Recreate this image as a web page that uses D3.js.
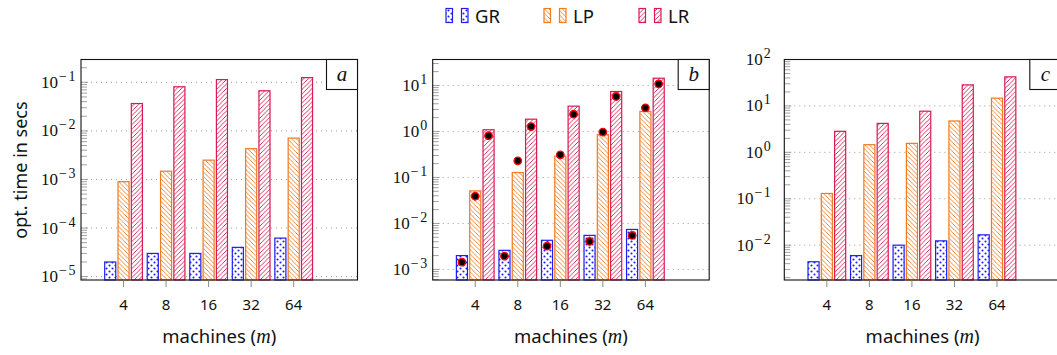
<!DOCTYPE html>
<html>
<head>
<meta charset="utf-8">
<script src="https://cdn.jsdelivr.net/npm/d3@7"></script>
<style>
  body { margin: 0; background: #fff; }
  svg { display: block; }
  .sans { font-family: "Noto Sans", "Open Sans", sans-serif; }
  .serif { font-family: "Liberation Serif", "DejaVu Serif", serif; }
</style>
</head>
<body>
<svg id="chart" width="1057" height="355"></svg>
<script>
// categories and series
const categories = ["4", "8", "16", "32", "64"];
const seriesNames = ["GR", "LP", "LR"];
const panelLetters = ["a", "b", "c"];

// panel a
const grA = [2.0e-5, 3.0e-5, 3.0e-5, 4.0e-5, 6.2e-5];
const lpA = [9.0e-4, 1.48e-3, 2.5e-3, 4.3e-3, 7.1e-3];
const lrA = [0.0366, 0.081, 0.114, 0.067, 0.125];

// panel b (bars + dot markers)
const grB = [2.0e-3, 2.6e-3, 4.3e-3, 5.5e-3, 7.4e-3];
const lpB = [0.051, 0.128, 0.29, 0.85, 2.72];
const lrB = [1.09, 1.85, 3.55, 7.4, 14.4];
const grBDots = [1.44e-3, 1.95e-3, 3.2e-3, 4.06e-3, 5.5e-3];
const lpBDots = [0.039, 0.23, 0.31, 0.97, 3.27];
const lrBDots = [0.81, 1.28, 2.38, 5.76, 10.8];

// panel c
const grC = [4.4e-3, 5.96e-3, 0.010, 0.0124, 0.0167];
const lpC = [0.13, 1.46, 1.56, 4.74, 14.7];
const lrC = [2.84, 4.2, 7.7, 28.4, 42.3];

// axis ranges and decade ticks
const yDomains = [[Math.pow(10, -5.07), Math.pow(10, -0.53)],
                  [Math.pow(10, -3.23), Math.pow(10, 1.565)],
                  [Math.pow(10, -2.75), Math.pow(10, 2.0)]];
const yTickExps = [[-5, -4, -3, -2, -1], [-3, -2, -1, 0, 1], [-2, -1, 0, 1, 2]];

const panels = [
    { bars: [grA, lpA, lrA], dots: null },
    { bars: [grB, lpB, lrB], dots: [grBDots, lpBDots, lrBDots] },
    { bars: [grC, lpC, lrC], dots: null }
];

const colors = ["#1f1ff0", "#f07a1e", "#d81952"];
const patternIds = ["pat-dots", "pat-nw", "pat-ne"];

const svg = d3.select("#chart");
const defs = svg.append("defs");

// fill patterns
const pDots = defs.append("pattern").attr("id", "pat-dots")
    .attr("patternUnits", "userSpaceOnUse").attr("width", 6).attr("height", 6);
pDots.append("rect").attr("width", 6).attr("height", 6).attr("fill", "#fff");
pDots.append("circle").attr("cx", 1.5).attr("cy", 1.5).attr("r", 1.05).attr("fill", colors[0]);
pDots.append("circle").attr("cx", 4.5).attr("cy", 4.5).attr("r", 1.05).attr("fill", colors[0]);

function linePattern(id, color, dir) {
    const s = 4.5;
    const p = defs.append("pattern").attr("id", id)
        .attr("patternUnits", "userSpaceOnUse").attr("width", s).attr("height", s);
    p.append("rect").attr("width", s).attr("height", s).attr("fill", "#fff");
    const d = dir > 0
        ? `M-1,1 L1,-1 M0,${s} L${s},0 M${s - 1},${s + 1} L${s + 1},${s - 1}`
        : `M-1,${s - 1} L1,${s + 1} M0,0 L${s},${s} M${s - 1},-1 L${s + 1},1`;
    p.append("path").attr("d", d).attr("stroke", color).attr("stroke-width", 0.9);
}
linePattern("pat-nw", colors[1], -1);
linePattern("pat-ne", colors[2], 1);

const panelLeft = [81, 432.7, 784.3];
const panelW = 276.5;
const plotTop = 59.5, plotBottom = 280;
const labelGap = [4, 4, 12];

panels.forEach((panel, pi) => {
    const g = svg.append("g");
    const x = d3.scaleLinear().domain([-1, 5.5]).range([panelLeft[pi], panelLeft[pi] + panelW]);
    const y = d3.scaleLog().domain(yDomains[pi]).range([plotBottom, plotTop]);
    const step = x(1) - x(0);
    const bw = step * 0.26;
    const off = step * 0.313;

    // grid
    g.selectAll(".grid").data(yTickExps[pi]).enter().append("line")
        .attr("x1", x.range()[0]).attr("x2", x.range()[1])
        .attr("y1", e => y(Math.pow(10, e))).attr("y2", e => y(Math.pow(10, e)))
        .attr("stroke", "#999").attr("stroke-width", 1)
        .attr("stroke-dasharray", "1,4");

    // minor ticks
    const minor = [];
    const [lo, hi] = yDomains[pi];
    for (let e = Math.floor(Math.log10(lo)); e <= Math.ceil(Math.log10(hi)); e++) {
        for (let k = 1; k <= 9; k++) {
            const v = k * Math.pow(10, e);
            if (v >= lo && v <= hi * 1.0001) minor.push({ v, major: k === 1 });
        }
    }
    g.selectAll(".minor").data(minor).enter().append("line")
        .attr("x1", x.range()[0]).attr("x2", d => x.range()[0] + (d.major ? 7 : 6))
        .attr("y1", d => y(d.v)).attr("y2", d => y(d.v))
        .attr("stroke", "#8a8a8a").attr("stroke-width", 0.8);

    // bars
    panel.bars.forEach((vals, si) => {
        g.selectAll(".bar" + si).data(vals).enter().append("rect")
            .attr("x", (v, i) => x(i) + (si - 1) * off - bw / 2)
            .attr("width", bw)
            .attr("y", v => y(v))
            .attr("height", v => plotBottom - y(v))
            .attr("fill", `url(#${patternIds[si]})`)
            .attr("stroke", colors[si]).attr("stroke-width", 1.2);
    });

    // dot markers
    if (panel.dots) {
        panel.dots.forEach((vals, si) => {
            g.selectAll(".dot" + si).data(vals).enter().append("circle")
                .attr("cx", (v, i) => x(i) + (si - 1) * off)
                .attr("cy", v => y(v))
                .attr("r", 3.7)
                .attr("fill", "#000").attr("stroke", "#f00").attr("stroke-width", 1.4);
        });
    }

    // frame
    g.append("rect")
        .attr("x", x.range()[0]).attr("y", plotTop)
        .attr("width", panelW).attr("height", plotBottom - plotTop)
        .attr("fill", "none").attr("stroke", "#111").attr("stroke-width", 1.1);

    // x ticks
    g.selectAll(".xt").data(categories).enter().append("line")
        .attr("x1", (c, i) => x(i)).attr("x2", (c, i) => x(i))
        .attr("y1", plotBottom + 0.5).attr("y2", plotBottom + 7)
        .attr("stroke", "#8a8a8a").attr("stroke-width", 1);
    g.selectAll(".xl").data(categories).enter().append("text")
        .attr("class", "sans")
        .attr("x", (c, i) => x(i)).attr("y", 309.5)
        .attr("text-anchor", "middle").attr("font-size", 15).attr("fill", "#111")
        .text(c => c);

    // y tick labels
    const yl = g.selectAll(".yl").data(yTickExps[pi]).enter().append("text")
        .attr("class", "serif")
        .attr("x", x.range()[0] - labelGap[pi])
        .attr("y", e => y(Math.pow(10, e)) + 5.5)
        .attr("text-anchor", "end").attr("font-size", 17).attr("fill", "#111");
    yl.append("tspan").text("10");
    yl.append("tspan").attr("dx", 1).attr("dy", -7).attr("font-size", 14)
        .attr("letter-spacing", 1.5)
        .text(e => e < 0 ? "\u2212" + (-e) : String(e));

    // panel letter box
    const bx = x.range()[1] - 31;
    g.append("rect").attr("x", bx).attr("y", plotTop).attr("width", 31).attr("height", 30)
        .attr("fill", "#fff").attr("stroke", "#111").attr("stroke-width", 1.1);
    g.append("text").attr("class", "serif")
        .attr("x", bx + 15.5).attr("y", plotTop + 21)
        .attr("text-anchor", "middle").attr("font-size", 21).attr("font-style", "italic")
        .attr("fill", "#111").text(panelLetters[pi]);

    // x axis title
    const xt = g.append("text").attr("class", "sans")
        .attr("x", x.range()[0] + panelW / 2).attr("y", 343)
        .attr("text-anchor", "middle").attr("font-size", 18.5).attr("fill", "#111");
    xt.append("tspan").text("machines (");
    xt.append("tspan").attr("class", "serif").attr("font-style", "italic").attr("font-size", 20).text("m");
    xt.append("tspan").text(")");
});

// y axis title
svg.append("text").attr("class", "sans")
    .attr("transform", "translate(27,170) rotate(-90)")
    .attr("text-anchor", "middle").attr("font-size", 18).attr("fill", "#111")
    .text("opt. time in secs");

// legend
const legendX = [446, 544, 639];
seriesNames.forEach((name, si) => {
    const lg = svg.append("g");
    [0, 15.5].forEach(dx => {
        lg.append("rect").attr("x", legendX[si] + dx).attr("y", 8.5)
            .attr("width", 6.5).attr("height", 14)
            .attr("fill", `url(#${patternIds[si]})`)
            .attr("stroke", colors[si]).attr("stroke-width", 1.2);
    });
    lg.append("text").attr("class", "sans")
        .attr("x", legendX[si] + 29).attr("y", 22.5)
        .attr("font-size", 18.5).attr("fill", "#111").text(name);
});
</script>
</body>
</html>
